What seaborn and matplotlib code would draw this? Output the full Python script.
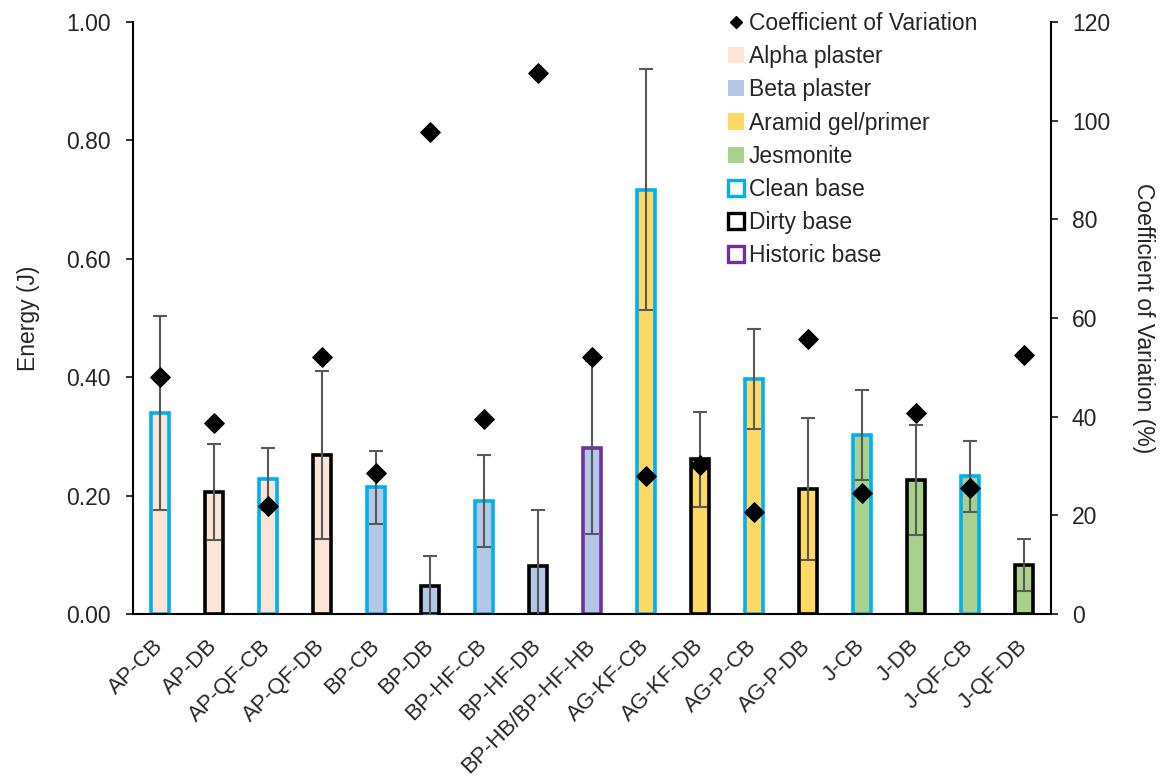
import matplotlib
matplotlib.use("Agg")
import matplotlib.pyplot as plt
import seaborn as sns
import pandas as pd
import numpy as np
from matplotlib.lines import Line2D
from matplotlib.patches import Patch
from matplotlib.ticker import FormatStrFormatter

categories = ["AP-CB", "AP-DB", "AP-QF-CB", "AP-QF-DB", "BP-CB", "BP-DB", "BP-HF-CB",
              "BP-HF-DB", "BP-HB/BP-HF-HB", "AG-KF-CB", "AG-KF-DB", "AG-P-CB", "AG-P-DB",
              "J-CB", "J-DB", "J-QF-CB", "J-QF-DB"]
energy = [0.339, 0.206, 0.228, 0.268, 0.214, 0.048, 0.191, 0.081, 0.281, 0.717, 0.261,
          0.397, 0.211, 0.302, 0.226, 0.233, 0.083]
energy_sd = [0.164, 0.081, 0.052, 0.142, 0.062, 0.050, 0.078, 0.094, 0.146, 0.204, 0.080,
             0.084, 0.120, 0.076, 0.093, 0.060, 0.044]
cv = [48.1, 38.8, 21.9, 52.0, 28.5, 97.8, 39.5, 109.7, 52.0, 28.0, 30.1, 20.7, 55.7,
      24.5, 40.7, 25.5, 52.5]
material = ["Alpha plaster"] * 4 + ["Beta plaster"] * 5 + ["Aramid gel/primer"] * 4 + ["Jesmonite"] * 4
base = ["Clean base", "Dirty base", "Clean base", "Dirty base", "Clean base", "Dirty base",
        "Clean base", "Dirty base", "Historic base", "Clean base", "Dirty base", "Clean base",
        "Dirty base", "Clean base", "Dirty base", "Clean base", "Dirty base"]

material_colors = {"Alpha plaster": "#FBE5D6", "Beta plaster": "#B4C7E7",
                   "Aramid gel/primer": "#FFD966", "Jesmonite": "#A9D18E"}
base_colors = {"Clean base": "#00B0F0", "Dirty base": "#000000", "Historic base": "#7030A0"}

df = pd.DataFrame({"cat": categories, "energy": energy, "sd": energy_sd, "cv": cv,
                   "material": material, "base": base})

sns.set_style("ticks")
plt.rcParams["font.family"] = ["Liberation Sans", "DejaVu Sans"]

FS = 16.5

fig = plt.figure(figsize=(11.63, 7.76), dpi=100)
ax = fig.add_axes([0.1144, 0.2088, 0.7893, 0.7628])

sns.barplot(data=df, x="cat", y="energy", hue="cat",
            palette=[material_colors[m] for m in material], width=0.35,
            legend=False, ax=ax, errorbar=None, saturation=1)
for patch, b in zip(ax.patches, base):
    patch.set_edgecolor(base_colors[b])
    patch.set_linewidth(2.6)

xpos = np.arange(len(categories))
ax.errorbar(xpos, energy, yerr=energy_sd, fmt="none", ecolor="#595959",
            elinewidth=1.5, capsize=5, capthick=1.5, zorder=5)

ax.set_ylim(0, 1.0)
ax.set_xlim(-0.5, len(categories) - 0.5)
ax.set_yticks(np.arange(0, 1.01, 0.2))
ax.yaxis.set_major_formatter(FormatStrFormatter("%.2f"))
ax.set_ylabel("Energy (J)", fontsize=FS, labelpad=19)
ax.set_xlabel("")
ax.tick_params(axis="y", labelsize=FS, direction="out", length=5, width=1.3, pad=11)
ax.tick_params(axis="x", labelsize=16, length=0, pad=21)
plt.setp(ax.get_xticklabels(), rotation=45, ha="right", va="center", rotation_mode="anchor")
for s in ["left", "bottom"]:
    ax.spines[s].set_linewidth(1.5)
    ax.spines[s].set_color("black")
ax.spines["top"].set_visible(False)
ax.spines["right"].set_visible(False)

ax2 = ax.twinx()
sns.scatterplot(x=xpos, y=cv, marker="D", s=100, color="black", edgecolor="black",
                ax=ax2, zorder=6, legend=False)
ax2.set_ylim(0, 120)
ax2.set_yticks(np.arange(0, 121, 20))
ax2.set_ylabel("Coefficient of Variation (%)", fontsize=FS, rotation=270, labelpad=32)
ax2.tick_params(axis="y", labelsize=FS, direction="out", length=5, width=1.3, pad=10)
ax2.spines["top"].set_visible(False)
ax2.spines["right"].set_linewidth(1.5)
ax2.spines["right"].set_color("black")
ax2.spines["left"].set_visible(False)
ax2.spines["bottom"].set_visible(False)

handles = [Line2D([0], [0], marker="D", color="none", markerfacecolor="black",
                  markeredgecolor="black", markersize=6)]
labels = ["Coefficient of Variation"]
for m, c in material_colors.items():
    handles.append(Patch(facecolor=c, edgecolor="none"))
    labels.append(m)
for b, c in base_colors.items():
    handles.append(Patch(facecolor="white", edgecolor=c, linewidth=2.4))
    labels.append(b)
fig.legend(handles, labels, loc="upper left", bbox_to_anchor=(0.618, 0.996),
           frameon=False, fontsize=FS, handlelength=0.7, handleheight=0.7,
           handletextpad=0.2, labelspacing=0.44, borderaxespad=0)

fig.savefig("out.png", dpi=100)
